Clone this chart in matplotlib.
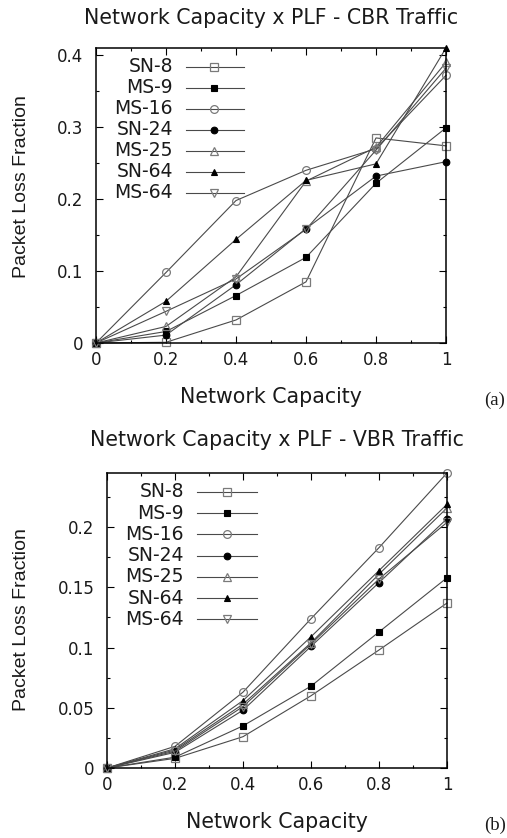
import matplotlib
matplotlib.use("Agg")
import matplotlib.pyplot as plt
from matplotlib.ticker import MultipleLocator
import numpy as np

plt.rcParams['font.family'] = ['DejaVu Sans']
plt.rcParams['text.color'] = '#1a1a1a'
plt.rcParams['xtick.labelcolor'] = '#1a1a1a'
plt.rcParams['ytick.labelcolor'] = '#1a1a1a'

# network capacity (x axis)
capacity = [0, 0.2, 0.4, 0.6, 0.8, 1.0]

series_names = ["SN-8", "MS-9", "MS-16", "SN-24", "MS-25", "SN-64", "MS-64"]

# CBR traffic packet loss fraction
cbr_sn8  = [0, 0.001, 0.032, 0.085, 0.285, 0.274]
cbr_ms9  = [0, 0.016, 0.066, 0.119, 0.222, 0.299]
cbr_ms16 = [0, 0.098, 0.198, 0.240, 0.270, 0.372]
cbr_sn24 = [0, 0.011, 0.081, 0.159, 0.232, 0.252]
cbr_ms25 = [0, 0.023, 0.092, 0.225, 0.272, 0.390]
cbr_sn64 = [0, 0.058, 0.144, 0.226, 0.249, 0.410]
cbr_ms64 = [0, 0.044, 0.089, 0.158, 0.268, 0.382]

# VBR traffic packet loss fraction
vbr_sn8  = [0, 0.008, 0.026, 0.060, 0.098, 0.137]
vbr_ms9  = [0, 0.009, 0.035, 0.068, 0.113, 0.158]
vbr_ms16 = [0, 0.018, 0.063, 0.124, 0.183, 0.245]
vbr_sn24 = [0, 0.013, 0.048, 0.101, 0.154, 0.207]
vbr_ms25 = [0, 0.015, 0.053, 0.104, 0.161, 0.216]
vbr_sn64 = [0, 0.016, 0.056, 0.109, 0.164, 0.219]
vbr_ms64 = [0, 0.014, 0.051, 0.103, 0.157, 0.204]

cbr = [cbr_sn8, cbr_ms9, cbr_ms16, cbr_sn24, cbr_ms25, cbr_sn64, cbr_ms64]
vbr = [vbr_sn8, vbr_ms9, vbr_ms16, vbr_sn24, vbr_ms25, vbr_sn64, vbr_ms64]

# marker, filled?
styles = [("s", False), ("s", True), ("o", False), ("o", True),
          ("^", False), ("^", True), ("v", False)]

LINE_C = "#4a4a4a"


def marker_kw(m, filled):
    if filled:
        return dict(marker=m, markersize=4.8, markerfacecolor="black",
                    markeredgecolor="black", markeredgewidth=0.8)
    return dict(marker=m, markersize=5.6, markerfacecolor="none",
                markeredgecolor="#7a7a7a", markeredgewidth=0.9)


def draw_panel(ax, data, ymax, ymaj, ymin_step, leg):
    for vals, (m, filled) in zip(data, styles):
        ax.plot(capacity, vals, color=LINE_C, lw=0.8, clip_on=False,
                **marker_kw(m, filled))
    ax.set_xlim(0, 1)
    ax.set_ylim(0, ymax)
    ax.xaxis.set_major_locator(MultipleLocator(0.2))
    ax.xaxis.set_minor_locator(MultipleLocator(0.1))
    ax.yaxis.set_major_locator(MultipleLocator(ymaj))
    ax.yaxis.set_minor_locator(MultipleLocator(ymin_step))
    ax.xaxis.set_major_formatter(plt.FuncFormatter(lambda v, p: f"{v:g}"))
    ax.yaxis.set_major_formatter(plt.FuncFormatter(lambda v, p: f"{v:g}"))
    ax.tick_params(which="both", direction="in", top=True, right=True,
                   labelsize=12, width=0.8, color="black")
    ax.tick_params(which="major", length=5)
    ax.tick_params(which="minor", length=2.5)
    ax.tick_params(axis="x", which="major", pad=6)
    ax.tick_params(axis="y", which="major", pad=9)
    for s in ax.spines.values():
        s.set_linewidth(1.1)

    # key box, gnuplot style: right-aligned labels then a sample
    lab_x, x0, x1, mx, y0, dy = leg
    for i, (name, (m, filled)) in enumerate(zip(series_names, styles)):
        y = y0 - i * dy
        ax.text(lab_x, y, name, transform=ax.transAxes, ha="right",
                va="center", fontsize=13.5)
        ax.plot([x0, x1], [y, y], transform=ax.transAxes, color=LINE_C,
                lw=0.8)
        ax.plot([mx], [y], transform=ax.transAxes, linestyle="none",
                **marker_kw(m, filled))


fig = plt.figure(figsize=(5.07, 8.38), dpi=100)
W, H = 507.0, 838.0

ax1 = fig.add_axes([96 / W, 1 - 343 / H, 350 / W, 295 / H])
draw_panel(ax1, cbr, 0.41, 0.1, 0.05,
           (0.22, 0.257, 0.423, 0.337, 0.936, 0.0712))

ax2 = fig.add_axes([107 / W, 1 - 768 / H, 340 / W, 295 / H])
draw_panel(ax2, vbr, 0.245, 0.05, 0.025,
           (0.2265, 0.265, 0.441, 0.353, 0.9366, 0.0722))

fig.text(271 / W, 1 - 18 / H, "Network Capacity x PLF - CBR Traffic",
         ha="center", va="center", fontsize=14.8)
fig.text(271 / W, 1 - 397 / H, "Network Capacity", ha="center",
         va="center", fontsize=14.8)
fig.text(22 / W, 1 - 187 / H, "Packet Loss Fraction", ha="center",
         va="center", rotation=90, fontsize=14, family="Liberation Sans")
fig.text(495 / W, 1 - 400 / H, "(a)", ha="center", va="center",
         fontsize=13.5, family="Liberation Serif")

fig.text(277 / W, 1 - 440 / H, "Network Capacity x PLF - VBR Traffic",
         ha="center", va="center", fontsize=14.8)
fig.text(277 / W, 1 - 822 / H, "Network Capacity", ha="center",
         va="center", fontsize=14.8)
fig.text(22 / W, 1 - 620 / H, "Packet Loss Fraction", ha="center",
         va="center", rotation=90, fontsize=14, family="Liberation Sans")
fig.text(495 / W, 1 - 825 / H, "(b)", ha="center", va="center",
         fontsize=13.5, family="Liberation Serif")

fig.savefig("out.png", dpi=100)
